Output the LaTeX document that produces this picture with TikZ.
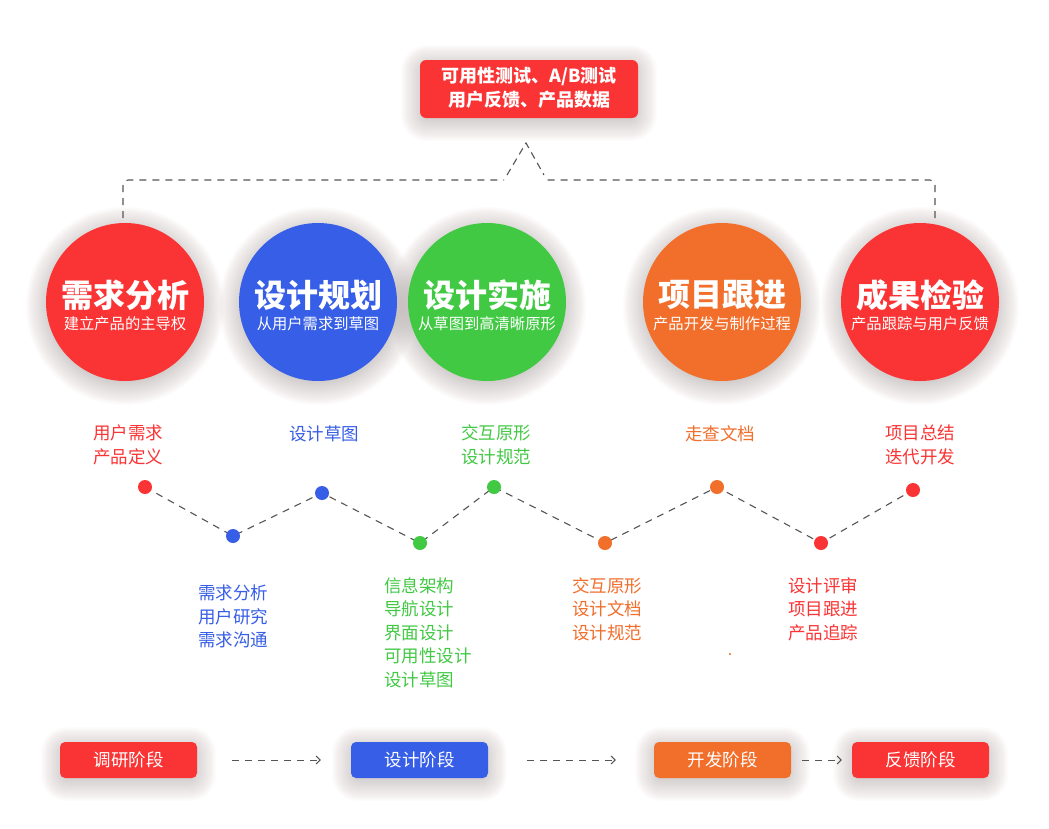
\documentclass[tikz,border=0pt]{standalone}
\usepackage{fontspec}
\setmainfont{Noto Sans CJK SC}
\usetikzlibrary{arrows.meta}
\definecolor{cred}{RGB}{250,52,52}
\definecolor{cblue}{RGB}{55,94,230}
\definecolor{cgreen}{RGB}{66,201,68}
\definecolor{corange}{RGB}{241,110,43}
\definecolor{shc}{RGB}{120,70,70}
\definecolor{dashc}{RGB}{85,85,85}
\tikzset{
  bigcirc/.style={circle, minimum size=158pt, inner sep=0pt},
  ctitle/.style={text=white, font=\fontsize{32}{36}\selectfont\bfseries, inner sep=0pt},
  csub/.style={text=white, font=\fontsize{15.3}{18}\selectfont, inner sep=0pt},
  dotn/.style={circle, minimum size=14pt, inner sep=0pt},
  lbl/.style={font=\fontsize{17.5}{23.5}\selectfont, inner sep=0pt},
  zig/.style={dashc, line width=1.1pt, dash pattern=on 7pt off 6pt},
  brk/.style={dashc, line width=1.1pt, dash pattern=on 7pt off 6pt},
  stagebox/.style={rounded corners=5pt, minimum width=137pt, minimum height=36pt, inner sep=0pt, text=white, font=\fontsize{17.5}{20}\selectfont},
  flow/.style={dashc, line width=1pt, dash pattern=on 7pt off 6pt, -{Straight Barb[length=4pt,width=8pt]}},
}
\newcommand{\glowcirc}[3]{%
  \foreach \k in {0,...,22}{\fill[shc, opacity=0.010] (#1,#2+4) circle ({#3-4+\k*1.1});}%
}
\newcommand{\glowbox}[4]{%
  \foreach \k in {0,...,20}{\fill[shc, opacity=0.011, rounded corners={6pt+\k*1.0pt}] ({#1+3-\k*1.1},{#2+3-\k*1.1+4}) rectangle ({#3-3+\k*1.1},{#4-3+\k*1.1+4});}%
}
\begin{document}
\begin{tikzpicture}[x=1pt,y=-1pt]
\useasboundingbox (0,0) rectangle (1049,828);
\fill[white] (0,0) rectangle (1049,828);

% ---- top box
\glowbox{420}{60}{638}{118}
\node[fill=cred, rounded corners=6pt, minimum width=218pt, minimum height=58pt, inner sep=0pt] (top) at (529,89) {};
\node[text=white, font=\fontsize{18}{24}\selectfont\bfseries, align=center, inner sep=0pt] (toptext) at (529,88) {可用性测试、A/B测试\\用户反馈、产品数据};

% ---- circles
\glowcirc{125}{302}{79}
\glowcirc{318}{302}{79}
\glowcirc{487}{302}{79}
\glowcirc{722}{302}{79}
\glowcirc{920}{302}{79}
\node[bigcirc, fill=cred] (c1) at (125,302) {};
\node[bigcirc, fill=cblue] (c2) at (318,302) {};
\node[bigcirc, fill=cgreen] (c3) at (487,302) {};
\node[bigcirc, fill=corange] (c4) at (722,302) {};
\node[bigcirc, fill=cred] (c5) at (920,302) {};

\node[ctitle] (t1) at (125,295) {需求分析};
\node[csub] (s1) at (125,324) {建立产品的主导权};
\node[ctitle] (t2) at (318,295) {设计规划};
\node[csub] (s2) at (318,324) {从用户需求到草图};
\node[ctitle] (t3) at (487,295) {设计实施};
\node[csub] (s3) at (487,324) {从草图到高清晰原形};
\node[ctitle] (t4) at (722,295) {项目跟进};
\node[csub] (s4) at (722,324) {产品开发与制作过程};
\node[ctitle] (t5) at (920,295) {成果检验};
\node[csub] (s5) at (920,324) {产品跟踪与用户反馈};

% ---- bracket to top box
\coordinate (bl) at (123,218);
\coordinate (br) at (935,218);
\coordinate (al) at (504,180);
\coordinate (ar) at (547,180);
\coordinate (cl) at (507,175);
\coordinate (cr) at (544,175);
\coordinate (apex) at (526,143);
\draw[brk, rounded corners=5pt] (bl) -- (123,180) -- (al);
\draw[brk, rounded corners=5pt] (br) -- (935,180) -- (ar);
\draw[dashc, line width=1.1pt, dash pattern=on 7pt off 5pt] (cl) -- (apex) -- (cr);

% ---- zigzag
\coordinate (p1) at (145,487);
\coordinate (p2) at (233,536);
\coordinate (p3) at (322,493);
\coordinate (p4) at (420,543);
\coordinate (p5) at (494,487);
\coordinate (p6) at (605,543);
\coordinate (p7) at (717,487);
\coordinate (p8) at (821,543);
\coordinate (p9) at (913,490);
\draw[zig] (p1) -- (p2) -- (p3) -- (p4) -- (p5) -- (p6) -- (p7) -- (p8) -- (p9);
\node[dotn, fill=cred] (d1) at (p1) {};
\node[dotn, fill=cblue] (d2) at (p2) {};
\node[dotn, fill=cblue] (d3) at (p3) {};
\node[dotn, fill=cgreen] (d4) at (p4) {};
\node[dotn, fill=cgreen] (d5) at (p5) {};
\node[dotn, fill=corange] (d6) at (p6) {};
\node[dotn, fill=corange] (d7) at (p7) {};
\node[dotn, fill=cred] (d8) at (p8) {};
\node[dotn, fill=cred] (d9) at (p9) {};
\fill[corange] (730,654) circle (1.1);

% ---- labels above
\node[lbl, text=cred, align=center] (l1) at (128,445) {用户需求\\产品定义};
\node[lbl, text=cblue, align=center] (l3) at (324,434) {设计草图};
\node[lbl, text=cgreen, align=center] (l5) at (496,445) {交互原形\\设计规范};
\node[lbl, text=corange, align=center] (l7) at (720,434) {走查文档};
\node[lbl, text=cred, align=center] (l9) at (920,445) {项目总结\\迭代开发};

% ---- labels below
\node[lbl, text=cblue, align=left, anchor=west] (l2) at (198,616.5) {需求分析\\用户研究\\需求沟通};
\node[lbl, text=cgreen, align=left, anchor=west] (l4) at (384,632.5) {信息架构\\导航设计\\界面设计\\可用性设计\\设计草图};
\node[lbl, text=corange, align=left, anchor=west] (l6) at (572,609) {交互原形\\设计文档\\设计规范};
\node[lbl, text=cred, align=left, anchor=west] (l8) at (788,609) {设计评审\\项目跟进\\产品追踪};

% ---- stages
\glowbox{60}{742}{197}{778}
\glowbox{351}{742}{488}{778}
\glowbox{654}{742}{791}{778}
\glowbox{852}{742}{989}{778}
\node[stagebox, fill=cred] (b1) at (128.5,760) {调研阶段};
\node[stagebox, fill=cblue] (b2) at (419.5,760) {设计阶段};
\node[stagebox, fill=corange] (b3) at (722.5,760) {开发阶段};
\node[stagebox, fill=cred] (b4) at (920.5,760) {反馈阶段};
\draw[flow] ([xshift=35pt]b1.east) -- ([xshift=-30pt]b2.west);
\draw[flow] ([xshift=39pt]b2.east) -- ([xshift=-38pt]b3.west);
\draw[flow] ([xshift=11pt]b3.east) -- ([xshift=-10pt]b4.west);
\end{tikzpicture}
\end{document}
